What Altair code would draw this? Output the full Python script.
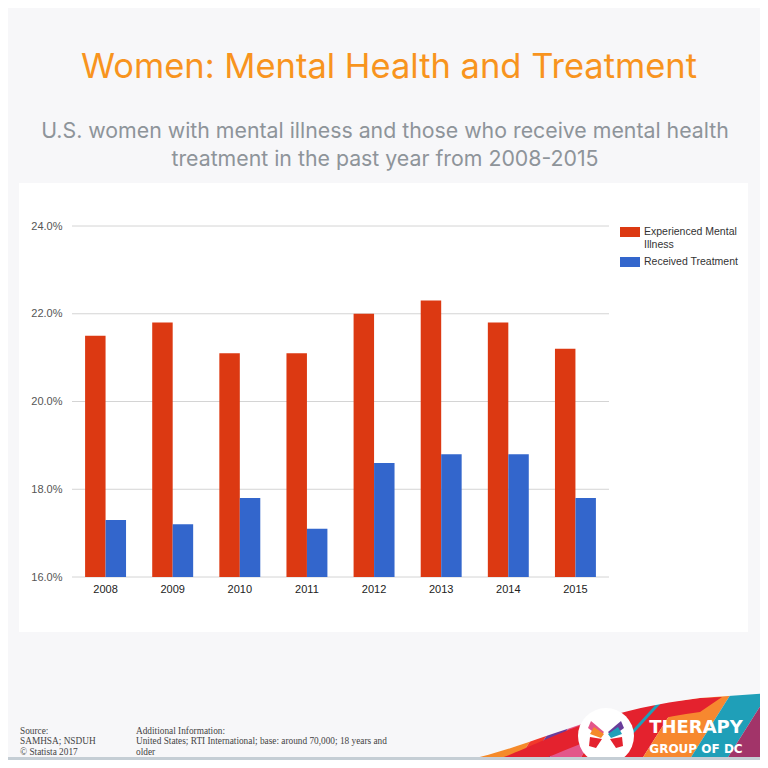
import altair as alt
import pandas as pd

# ---------------- data ----------------
years = ["2008", "2009", "2010", "2011", "2012", "2013", "2014", "2015"]
mental_illness = [21.5, 21.8, 21.1, 21.1, 22.0, 22.3, 21.8, 21.2]
received_treatment = [17.3, 17.2, 17.8, 17.1, 18.6, 18.8, 18.8, 17.8]
series_names = ["Experienced Mental Illness", "Received Treatment"]
series_colors = ["#dc3912", "#3366cc"]
y_ticks = [16, 18, 20, 22, 24]

title_text = "Women: Mental Health and Treatment"
subtitle_lines = ["U.S. women with mental illness and those who receive mental health",
                  "treatment in the past year from 2008-2015"]
source_lines = ["Source:", "SAMHSA; NSDUH", "\u00a0\u00a9 Statista 2017"]
info_lines = ["Additional Information:",
              "United States; RTI International; base: around 70,000; 18 years and",
              "older"]

rows = []
for i, y in enumerate(years):
    rows.append({"year": y, "series": series_names[0], "value": mental_illness[i]})
    rows.append({"year": y, "series": series_names[1], "value": received_treatment[i]})
df = pd.DataFrame(rows)
grid_df = pd.DataFrame({"value": y_ticks})
one = pd.DataFrame({"a": [0]})

# ---------------- layout ----------------
W, H = 537, 351
OX, OY = 72, 226  # page position of plot origin
BG = "#f7f7f9"

def px(X):
    return X - OX

def py(Y):
    return Y - OY

yaxis = alt.Axis(values=y_ticks, labelExpr="format(datum.value, '.1f') + '%'",
                 grid=False, domain=False, ticks=False, title=None, zindex=1,
                 labelFont="Liberation Sans", labelFontSize=11, labelColor="#555555",
                 labelPadding=10)
yscale = alt.Scale(domain=[16, 24], zero=False, nice=False)

panel = alt.Chart(one).mark_rect(color="white").encode(
    x=alt.value(px(19)), x2=alt.value(px(748)),
    y=alt.value(py(183)), y2=alt.value(py(632)))

grid = alt.Chart(grid_df).mark_rule(color="#d4d4d4", strokeWidth=1).encode(
    y=alt.Y("value:Q", scale=yscale, axis=yaxis))

bars = alt.Chart(df).mark_bar().encode(
    x=alt.X("year:N", sort=years,
            scale=alt.Scale(paddingInner=0.39, paddingOuter=0.195),
            axis=alt.Axis(title=None, domain=False, ticks=False, labelAngle=0, zindex=1,
                          labelFont="Liberation Sans", labelFontSize=11,
                          labelColor="#222222", labelPadding=6)),
    xOffset=alt.XOffset("series:N", sort=series_names),
    y=alt.Y("value:Q", scale=yscale, axis=yaxis),
    y2=alt.Y2(datum=16),
    color=alt.Color("series:N", sort=series_names,
                    scale=alt.Scale(domain=series_names, range=series_colors),
                    legend=None),
)

def text_layer(txt, X, Y, size, color, font, align="left", weight="normal",
               baseline="middle", line_height=None):
    kw = dict(align=align, baseline=baseline, fontSize=size, color=color,
              font=font, fontWeight=weight)
    if line_height is not None:
        kw["lineHeight"] = line_height
    return alt.Chart(one).mark_text(**kw).encode(
        x=alt.value(px(X)), y=alt.value(py(Y)), text=alt.value(txt))

title = text_layer(title_text, 389, 78, 34.5, "#f8941e", "Inter", align="center",
                   baseline="alphabetic")
subtitle = text_layer(subtitle_lines, 385, 138, 21.3, "#8e949a", "Inter", align="center",
                      baseline="alphabetic", line_height=28)

# legend (manual)
leg_rect1 = alt.Chart(one).mark_rect(color=series_colors[0]).encode(
    x=alt.value(px(620)), x2=alt.value(px(640)), y=alt.value(py(227)), y2=alt.value(py(237)))
leg_rect2 = alt.Chart(one).mark_rect(color=series_colors[1]).encode(
    x=alt.value(px(620)), x2=alt.value(px(640)), y=alt.value(py(257)), y2=alt.value(py(267)))
leg_t1 = text_layer(["Experienced Mental", "Illness"], 644, 232, 10.5, "#333333",
                    "Liberation Sans", line_height=12.5)
leg_t2 = text_layer(series_names[1], 644, 262, 10.5, "#333333", "Liberation Sans")

src = text_layer(source_lines, 20, 731, 9.3, "#444444", "Liberation Serif", line_height=10.3)
info = text_layer(info_lines, 136, 731, 9.3, "#444444", "Liberation Serif", line_height=10.3)

# ---------------- logo decoration ----------------
def shape_layer(pts, color):
    d = "M" + " L".join(f"{px(a):.1f},{py(b):.1f}" for a, b in pts) + " Z"
    return alt.Chart(one).mark_point(shape=d, size=4, filled=True, color=color,
                                     opacity=1, strokeWidth=0).encode(
        x=alt.value(0), y=alt.value(0))

def path_layer(d, color):
    return alt.Chart(one).mark_point(shape=d, size=4, filled=True, color=color,
                                     opacity=1, strokeWidth=0).encode(
        x=alt.value(0), y=alt.value(0))

k = 0.63
def stripe(x0, x1, color):
    yb, yt = 770, 680
    return shape_layer([(x0 - k * (yb - 762), yb), (x1 - k * (yb - 762), yb),
                        (x1 + k * (762 - yt), yt), (x0 + k * (762 - yt), yt)], color)

stripes = [
    stripe(440, 517, "#f58a2a"),
    stripe(517, 530, "#f2392b"),
    stripe(530, 547, "#6a3d9a"),
    stripe(547, 578, "#e3568a"),
    stripe(578, 640, "#e4222e"),
    stripe(640, 688, "#f7882f"),
    stripe(688, 725, "#1f9fb8"),
    stripe(725, 800, "#a23469"),
]

def P(X, Y):
    return f"{px(X):.1f},{py(Y):.1f}"

band = path_layer(
    f"M{P(495,760)} C{P(540,746)} {P(585,712)} {P(700,698)} L{P(722,697)} "
    f"L{P(700,712)} C{P(620,722)} {P(575,748)} {P(535,762)} Z", "#e4222e")
thin_teal = shape_layer([(628, 735), (660, 700), (664, 700), (632, 735)], "#1f9fb8")
mask = path_layer(
    f"M{P(400,762)} L{P(456,762)} C{P(528,750)} {P(585,712)} {P(700,698)} "
    f"L{P(770,693)} L{P(770,650)} L{P(400,650)} Z", BG)
circle = alt.Chart(one).mark_point(shape="circle", size=56 * 56, filled=True,
                                   color="white", opacity=1, strokeWidth=0).encode(
    x=alt.value(px(606)), y=alt.value(py(736)))
wings = [
    shape_layer([(591, 721), (604, 732), (600, 737), (588, 728)], "#e3568a"),
    shape_layer([(594, 727), (604, 734), (601, 738), (590, 734)], "#f58a2a"),
    shape_layer([(590, 737), (602, 739), (596, 748), (589, 746)], "#e4222e"),
    shape_layer([(621, 721), (608, 732), (612, 737), (624, 728)], "#6a3d9a"),
    shape_layer([(618, 727), (608, 734), (611, 738), (622, 734)], "#1f9fb8"),
    shape_layer([(622, 737), (610, 739), (616, 748), (623, 746)], "#e4222e"),
]
logo_t1 = text_layer("THERAPY", 696, 728, 18, "white", "DejaVu Sans", align="center",
                     weight="bold")
logo_t2 = text_layer("GROUP OF DC", 696, 749, 12, "white", "DejaVu Sans", align="center",
                     weight="bold")
strip = alt.Chart(one).mark_rect(color="#c5ced5").encode(
    x=alt.value(px(0)), x2=alt.value(px(768)), y=alt.value(py(757)), y2=alt.value(py(762)))

chart = alt.layer(
    panel, grid, bars, title, subtitle, leg_rect1, leg_rect2, leg_t1, leg_t2, src, info,
    *stripes, band, thin_teal, mask, circle, *wings, logo_t1, logo_t2, strip
).properties(
    width=W, height=H,
    autosize=alt.AutoSizeParams(type="none"),
    padding={"left": OX - 8, "top": OY - 8, "right": 752 - (OX - 8) - W,
             "bottom": 752 - (OY - 8) - H},
).configure(background=BG).configure_view(stroke=None)

chart.save("out.html", embed_options={"renderer": "svg", "actions": False})
